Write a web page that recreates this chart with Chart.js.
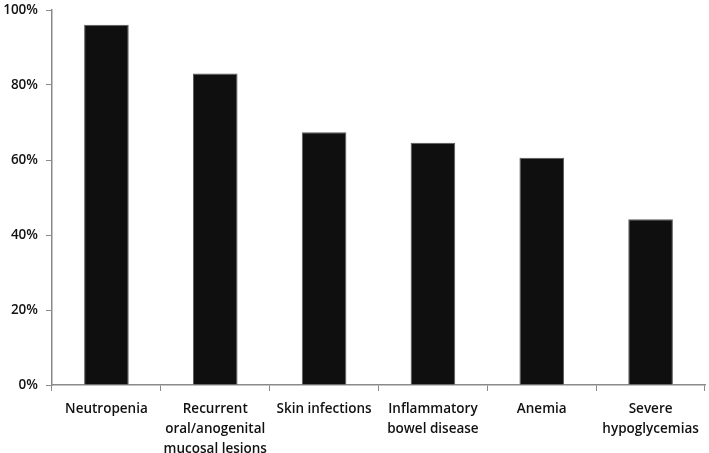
<!DOCTYPE html>
<html>
<head>
<meta charset="utf-8">
<script src="https://cdn.jsdelivr.net/npm/chart.js@4/dist/chart.umd.min.js"></script>
<style>
  html, body { margin: 0; padding: 0; background: #fff; }
  #wrap { width: 709px; height: 453px; position: relative; }
</style>
</head>
<body>
<div id="wrap"><canvas id="grafico"></canvas></div>
<script>
// Categorias (rótulos em várias linhas como no original)
const categorias = [
  'Neutropenia',
  ['Recurrent', 'oral/anogenital', 'mucosal lesions'],
  'Skin infections',
  ['Inflammatory', 'bowel disease'],
  'Anemia',
  ['Severe', 'hypoglycemias']
];

// Percentuais
const valores = [96.1, 83.1, 67.4, 64.6, 60.6, 44.2];

// Marcas do eixo y
const ticksY = [0, 20, 40, 60, 80, 100];

const corEixo = '#8a8a8a';
const fonteTexto = { family: '"Open Sans", sans-serif', size: 13.5, weight: '600', lineHeight: '20px' };

const ctx = document.getElementById('grafico').getContext('2d');
new Chart(ctx, {
  type: 'bar',
  data: {
    labels: categorias,
    datasets: [{
      data: valores,
      backgroundColor: '#0f0f0f',
      borderColor: '#5a5a5a',
      borderWidth: 1,
      barPercentage: 0.41,
      categoryPercentage: 1
    }]
  },
  options: {
    responsive: true,
    maintainAspectRatio: false,
    animation: false,
    layout: { padding: { left: 0, right: 4, top: 10, bottom: 0 } },
    plugins: {
      legend: { display: false },
      tooltip: { enabled: false }
    },
    scales: {
      x: {
        offset: true,
        grid: {
          offset: true,
          drawOnChartArea: false,
          tickLength: 6,
          color: corEixo
        },
        border: { color: corEixo, width: 1.5 },
        ticks: {
          color: '#111',
          font: fonteTexto,
          maxRotation: 0,
          autoSkip: false,
          padding: 8
        },
        afterFit: (escala) => {
          escala.height = 68;
          escala.paddingLeft = 0;
          escala.paddingRight = 0;
        }
      },
      y: {
        min: 0,
        max: 100,
        afterBuildTicks: (escala) => {
          escala.ticks = ticksY.map(v => ({ value: v }));
        },
        grid: {
          drawOnChartArea: false,
          tickLength: 6,
          color: corEixo
        },
        border: { color: corEixo, width: 1.5 },
        ticks: {
          color: '#111',
          font: { ...fonteTexto, lineHeight: 1.2 },
          padding: 8,
          callback: (v) => v + '%'
        },
        afterFit: (escala) => {
          escala.width = 52;
          escala.paddingTop = 0;
          escala.paddingBottom = 0;
        }
      }
    }
  }
});
</script>
</body>
</html>
